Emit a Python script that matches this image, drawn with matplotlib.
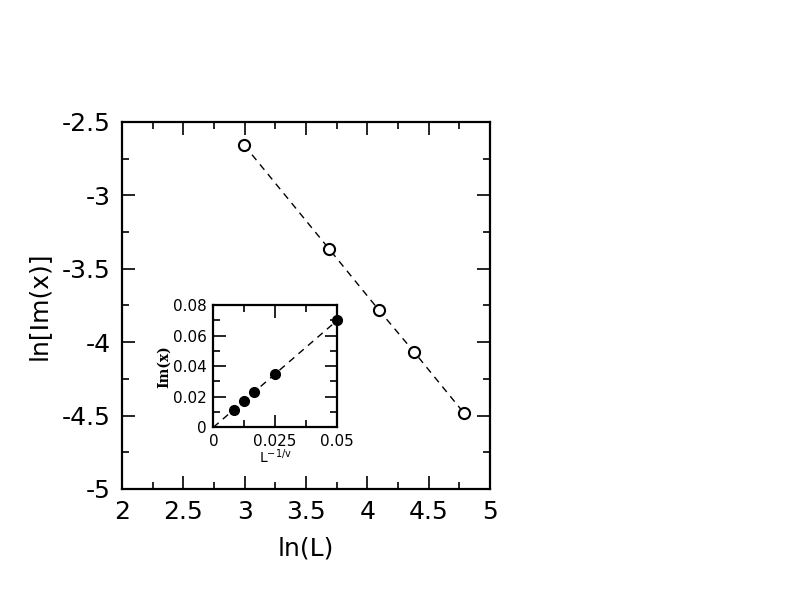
import numpy as np
import matplotlib.pyplot as plt
from matplotlib.ticker import MultipleLocator

# system sizes
L = [20, 40, 60, 80, 120]
# values
ln_im = [-2.657, -3.365, -3.781, -4.067, -4.482]

ln_L = np.log(L)
inv_L = 1.0 / np.array(L)          # L^(-1/nu) with nu = 1
im_x = np.exp(ln_im)

plt.rcParams['font.family'] = ['DejaVu Sans']

fig = plt.figure(figsize=(7.92, 6.12), dpi=100)

# main panel
ax = fig.add_axes([0.154, 0.201, 0.4646, 0.5997])
ax.plot(ln_L, ln_im, linestyle=(0, (5, 4)), color='black', lw=1.0,
        marker='o', markersize=8, markerfacecolor='white',
        markeredgecolor='black', markeredgewidth=1.5)
ax.set_xlim(2, 5)
ax.set_ylim(-5, -2.5)
ax.xaxis.set_minor_locator(MultipleLocator(0.25))
ax.yaxis.set_minor_locator(MultipleLocator(0.25))
ax.set_xticks([2, 2.5, 3, 3.5, 4, 4.5, 5])
ax.set_xticklabels(['2', '2.5', '3', '3.5', '4', '4.5', '5'])
ax.set_yticks([-5, -4.5, -4, -3.5, -3, -2.5])
ax.set_yticklabels(['-5', '-4.5', '-4', '-3.5', '-3', '-2.5'])
ax.tick_params(which='both', direction='in', top=True, right=True, width=1.2)
ax.tick_params(which='major', length=9.5, labelsize=18, pad=8)
ax.tick_params(which='minor', length=5)
for s in ax.spines.values():
    s.set_linewidth(1.6)
ax.set_xlabel('ln(L)', fontsize=18, labelpad=9)
ax.set_ylabel('ln[Im(x)]', fontsize=18, labelpad=8)

# inset
ins = fig.add_axes([0.2694, 0.3018, 0.1558, 0.1998])
slope = np.sum(inv_L * im_x) / np.sum(inv_L ** 2)
xfit = np.array([0, 0.05])
ins.plot(xfit, slope * xfit, linestyle=(0, (5, 4)), color='black', lw=1.0)
ins.plot(inv_L, im_x, 'o', color='black', markersize=7, linestyle='none',
         clip_on=False, zorder=5)
ins.set_xlim(0, 0.05)
ins.set_ylim(0, 0.08)
ins.set_xticks([0, 0.025, 0.05])
ins.set_xticklabels(['0', '0.025', '0.05'])
ins.xaxis.set_minor_locator(MultipleLocator(0.0125))
ins.set_yticks([0, 0.02, 0.04, 0.06, 0.08])
ins.set_yticklabels(['0', '0.02', '0.04', '0.06', '0.08'])
ins.yaxis.set_minor_locator(MultipleLocator(0.01))
ins.tick_params(which='both', direction='in', top=True, right=True, width=1.2)
ins.tick_params(which='major', length=9, labelsize=11, pad=5)
ins.tick_params(which='minor', length=5)
for s in ins.spines.values():
    s.set_linewidth(1.6)
ins.set_xlabel(r'L$^{\mathregular{-1/v}}$', fontsize=10, labelpad=-1)
ins.set_ylabel('Im(x)', fontsize=10, family='serif', fontweight='bold', labelpad=1)

fig.savefig('out.png', dpi=100)
